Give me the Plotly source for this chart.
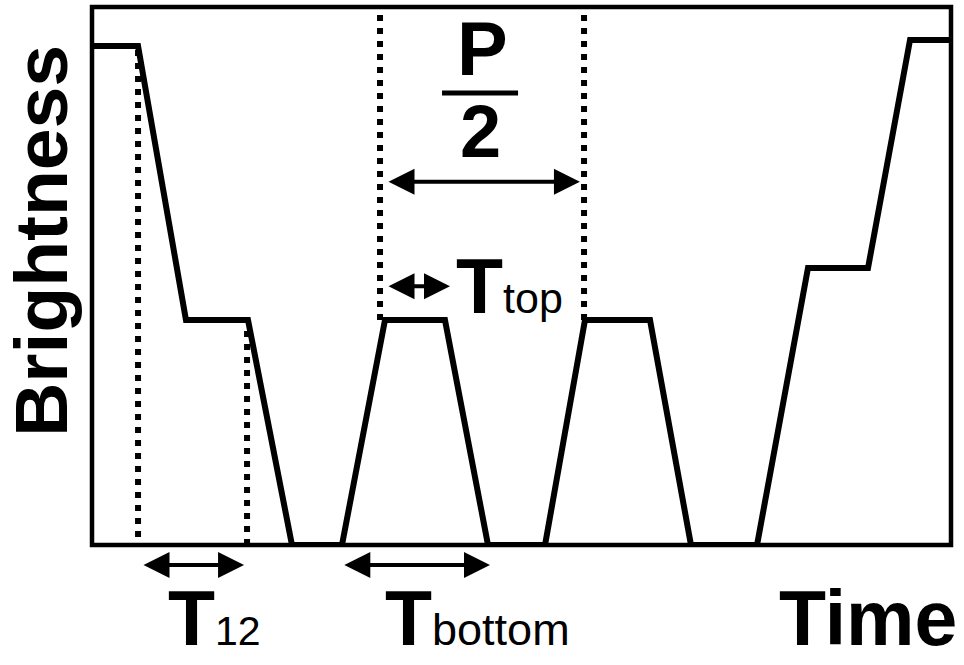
import plotly.graph_objects as go

# light curve (time 0-100, brightness 0-100)
time = [0, 5.36, 10.94, 18.16, 23.28, 29.10, 34.11, 41.09, 46.10, 52.74,
        57.39, 64.96, 69.73, 77.42, 83.35, 90.34, 95.23, 100]
brightness = [92.75, 92.75, 41.82, 41.82, 0, 0, 41.82, 41.82, 0, 0,
              41.82, 41.82, 0, 0, 51.49, 51.49, 93.87, 93.87]

# dotted guide lines
guide_x = [5.36, 18.05, 33.53, 57.28]
guide_y0 = [1.5, 0, 41.82, 41.82]
guide_y1 = [92.75, 40.0, 100, 100]

# interval arrows: (start, end, height in % of the frame)
arrows = {
    "half_period": (34.34, 56.8, 67.5),
    "t_top": (34.34, 41.68, 48.1),
    "t12": (5.82, 17.7, -3.72),
    "t_bottom": (29.2, 46.33, -3.72),
}

FONT = "Liberation Sans"

fig = go.Figure()

fig.add_trace(go.Scatter(x=time, y=brightness, mode="lines",
                         line=dict(color="black", width=6),
                         hoverinfo="skip"))

for gx, g0, g1 in zip(guide_x, guide_y0, guide_y1):
    fig.add_trace(go.Scatter(x=[gx, gx], y=[g0, g1], mode="lines",
                             line=dict(color="black", width=6, dash="6px,7px"),
                             hoverinfo="skip"))

# arrows: y in paper units so the ones under the frame are not hidden
anns = []
for name, (a0, a1, ay) in arrows.items():
    anns.append(dict(x=a1, y=ay / 100, ax=a0, ay=0, xref="x", yref="paper",
                     axref="x", ayref="pixel", text="", showarrow=True,
                     arrowhead=2, startarrowhead=2, arrowside="end+start",
                     arrowsize=1.3, startarrowsize=1.3, arrowwidth=4,
                     arrowcolor="black", standoff=0, startstandoff=0))


def label(text, x, y, size, xanchor="center", angle=0):
    return dict(x=x / 100, y=y / 100, xref="paper", yref="paper", text=text,
                showarrow=False, xanchor=xanchor, yanchor="middle",
                textangle=angle, borderpad=0,
                font=dict(family=FONT, size=size, color="black", weight="bold"))


sub = "<span style='font-size:%dpx;font-weight:normal'>%s</span>"
anns += [
    label("P", 45.5, 92.2, 76),
    label("2", 45.2, 76.8, 74),
    label("T" + sub % (43, "top"), 42.3, 48.1, 77, "left"),
    label("T" + sub % (41, "12"), 8.7, -13.5, 77, "left"),
    label("T" + sub % (45, "bottom"), 34.0, -13.5, 77, "left"),
    label("Time", 100.8, -13.5, 77, "right"),
    label("Brightness", -5.9, 56.6, 75, angle=-90),
]

fig.update_layout(
    width=964, height=665,
    margin=dict(l=92, r=13, t=7, b=120),
    paper_bgcolor="white", plot_bgcolor="white",
    showlegend=False,
    annotations=anns,
    shapes=[
        dict(type="rect", xref="paper", yref="paper", x0=0, x1=1, y0=0, y1=1,
             line=dict(color="black", width=4.5)),
        dict(type="line", xref="x", yref="y", x0=40.75, x1=49.6, y0=84.0, y1=84.0,
             line=dict(color="black", width=5)),
    ],
)
fig.update_xaxes(range=[0, 100], showgrid=False, zeroline=False,
                 showticklabels=False, ticks="")
fig.update_yaxes(range=[0, 100], showgrid=False, zeroline=False,
                 showticklabels=False, ticks="")

fig.write_html("out.html", config={"displayModeBar": False},
               post_script="document.body.style.margin='0px';")
